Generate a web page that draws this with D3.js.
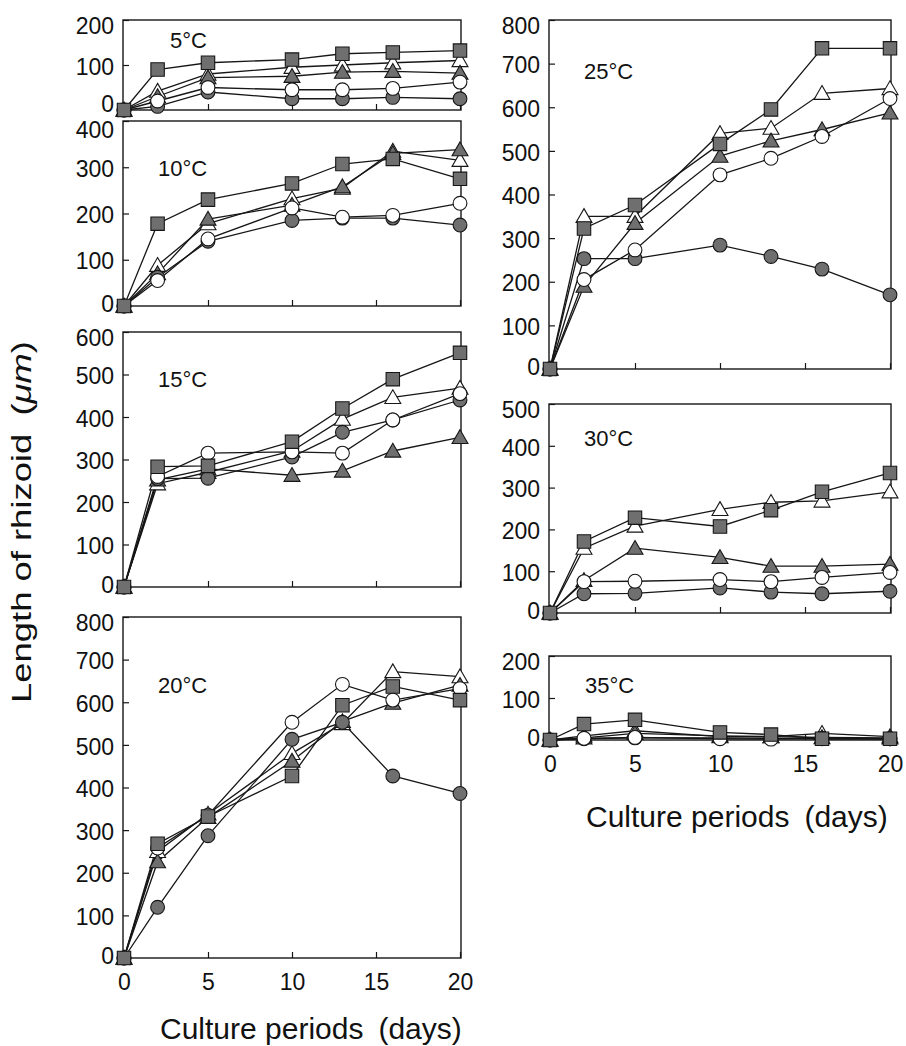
<!DOCTYPE html>
<html><head><meta charset="utf-8">
<script src="https://cdn.jsdelivr.net/npm/d3@7"></script>
<style>
html,body{margin:0;padding:0;background:#fff;}
svg text{font-family:"Liberation Sans",Arial,Helvetica,sans-serif;fill:#111;}
</style></head>
<body><svg id="chart" width="906" height="1046"></svg>
<script>
// ---- data ----
const days = [0, 2, 5, 10, 13, 16, 20];
const xTicks = [0, 5, 10, 15, 20];
const panelLabels = ["5°C", "10°C", "15°C", "20°C", "25°C", "30°C", "35°C"];
const yMax = [200, 400, 600, 800, 800, 500, 200];
const yTickStep = [100, 100, 100, 100, 100, 100, 100];

// series per panel: filled square, open triangle, filled triangle, open circle, filled circle
const sq5 = [0, 90, 105, 112, 125, 128, 132];
const triO5 = [0, 42, 80, 95, 100, 105, 110];
const triF5 = [0, 30, 72, 75, 84, 86, 82];
const cirO5 = [0, 20, 50, 45, 45, 48, 62];
const cirF5 = [0, 8, 40, 25, 25, 28, 25];

const sq10 = [0, 178, 230, 265, 307, 318, 275];
const triO10 = [0, 88, 178, 232, 255, 335, 315];
const triF10 = [0, 70, 188, 218, 258, 330, 338];
const cirO10 = [0, 55, 145, 212, 192, 196, 222];
const cirF10 = [0, 62, 140, 185, 190, 190, 175];

const sq15 = [0, 283, 285, 342, 420, 489, 551];
const triO15 = [0, 243, 270, 320, 395, 446, 468];
const triF15 = [0, 252, 278, 263, 273, 320, 352];
const cirO15 = [0, 260, 315, 318, 315, 393, 455];
const cirF15 = [0, 255, 256, 306, 364, 393, 440];

const sq20 = [0, 268, 332, 427, 593, 637, 605];
const triO20 = [0, 250, 338, 480, 550, 672, 660];
const triF20 = [0, 226, 330, 462, 555, 598, 640];
const cirO20 = [0, 258, 335, 553, 642, 605, 632];
const cirF20 = [0, 119, 287, 513, 553, 427, 386];

const sq25 = [0, 322, 376, 516, 595, 735, 735];
const triO25 = [0, 350, 350, 540, 552, 632, 643];
const triF25 = [0, 190, 334, 488, 523, 549, 587];
const cirO25 = [0, 205, 273, 445, 483, 533, 620];
const cirF25 = [0, 253, 253, 284, 258, 229, 170];

const sq30 = [0, 171, 228, 207, 246, 290, 335];
const triO30 = [0, 155, 208, 248, 265, 268, 290];
const triF30 = [0, 78, 155, 133, 112, 112, 117];
const cirO30 = [0, 75, 76, 80, 75, 85, 97];
const cirF30 = [0, 46, 47, 60, 50, 46, 52];

const sq35 = [0, 38, 48, 18, 13, 3, 3];
const triO35 = [0, 10, 22, 8, 8, 16, 8];
const triF35 = [0, 5, 16, 10, 8, 6, 5];
const cirO35 = [0, 4, 6, 3, 2, 4, 3];
const cirF35 = [0, 3, 5, 5, 4, 3, 3];

const panelSeries = [
  [triO5, triF5, cirF5, cirO5, sq5],
  [triO10, triF10, cirF10, cirO10, sq10],
  [triO15, triF15, cirF15, cirO15, sq15],
  [triO20, triF20, cirF20, cirO20, sq20],
  [triO25, triF25, cirF25, cirO25, sq25],
  [triO30, triF30, cirF30, cirO30, sq30],
  [triO35, triF35, cirF35, cirO35, sq35]
];
// marker style for each series in draw order
const seriesShape = ["triangle", "triangle", "circle", "circle", "square"];
const seriesFilled = [false, true, true, false, true];

// ---- layout ----
const layout = [
  {col: 0, top: 20, bottom: 110, xlabels: false},
  {col: 0, top: 121, bottom: 306, xlabels: false},
  {col: 0, top: 332, bottom: 587, xlabels: false},
  {col: 0, top: 617, bottom: 958, xlabels: true},
  {col: 1, top: 20, bottom: 369, xlabels: false},
  {col: 1, top: 404, bottom: 613, xlabels: false},
  {col: 1, top: 656, bottom: 740, xlabels: true}
];
const cols = [{left: 123, right: 461, x0: 124, x1: 460}, {left: 549, right: 891, x0: 550, x1: 890}];
const labelPos = [[170, 48], [158, 176], [158, 387], [158, 693], [584, 79], [584, 446], [585, 693]];

const svg = d3.select("#chart");
const fillGray = "#6f6f6f";
const ink = "#161616";

const symGen = {
  square: d3.symbol().type(d3.symbolSquare).size(180),
  triangle: d3.symbol().type(d3.symbolTriangle).size(110),
  circle: d3.symbol().type(d3.symbolCircle).size(150)
};

layout.forEach((L, i) => {
  const c = cols[L.col];
  const x = d3.scaleLinear().domain([0, 20]).range([c.x0, c.x1]);
  const y = d3.scaleLinear().domain([0, yMax[i]]).range([L.bottom, L.top]);
  const g = svg.append("g");

  // axes with inward ticks
  const yAxis = d3.axisLeft(y).tickValues(d3.range(0, yMax[i] + 1, yTickStep[i]))
    .tickSizeInner(-6).tickSizeOuter(0).tickPadding(9);
  const ga = g.append("g").attr("transform", `translate(${c.left},0)`).call(yAxis);
  ga.select(".domain").remove();
  ga.selectAll("line").attr("stroke", ink).attr("stroke-width", 1.2);
  ga.selectAll("text").style("font-size", "23px").attr("fill", ink)
    .attr("dy", d => {
      if (i === 0 && d === 0) return "0.05em";
      if (i === 1 && d === yMax[i]) return "0.72em";
      return d === yMax[i] ? "0.6em" : d === 0 ? "0.25em" : "0.4em";
    });

  const xAxis = d3.axisBottom(x).tickValues(xTicks).tickSizeInner(-6).tickSizeOuter(0)
    .tickPadding(16).tickFormat(L.xlabels ? d3.format("d") : () => "");
  const gx = g.append("g").attr("transform", `translate(0,${L.bottom})`).call(xAxis);
  gx.select(".domain").remove();
  gx.selectAll("line").attr("stroke", ink).attr("stroke-width", 1.2);
  gx.selectAll("text").style("font-size", "23px").attr("fill", ink);

  // frame
  g.append("rect").attr("x", c.left).attr("y", L.top)
    .attr("width", c.right - c.left).attr("height", L.bottom - L.top)
    .attr("fill", "none").attr("stroke", ink).attr("stroke-width", 1.4);

  // panel label
  g.append("text").attr("x", labelPos[i][0]).attr("y", labelPos[i][1])
    .style("font-size", "22px").text(panelLabels[i]);

  // lines
  const line = d3.line().x((d, k) => x(days[k])).y(d => y(d));
  panelSeries[i].forEach(vals => {
    g.append("path").datum(vals).attr("d", line)
      .attr("fill", "none").attr("stroke", ink).attr("stroke-width", 1.3);
  });
  // markers
  panelSeries[i].forEach((vals, s) => {
    g.append("g").selectAll("path").data(vals).join("path")
      .attr("transform", (d, k) => `translate(${x(days[k])},${y(d) + (seriesShape[s] === "triangle" ? 1.5 : 0)})`)
      .attr("d", symGen[seriesShape[s]])
      .attr("fill", seriesFilled[s] ? fillGray : "#fff")
      .attr("stroke", ink).attr("stroke-width", 1.1);
  });
});

// axis titles
svg.append("text").attr("x", 160).attr("y", 1039).style("font-size", "30px").attr("fill", ink)
  .text("Culture periods\u2002(days)");
svg.append("text").attr("x", 586).attr("y", 827).style("font-size", "30px").attr("fill", ink)
  .text("Culture periods\u2002(days)");
const yt = svg.append("text").attr("transform", "translate(31,522) rotate(-90) scale(1.3,1)")
  .attr("text-anchor", "middle").style("font-size", "28px").attr("fill", ink);
yt.append("tspan").text("Length of rhizoid\u2002(");
yt.append("tspan").style("font-style", "italic").text("μm");
yt.append("tspan").text(")");
</script></body></html>
